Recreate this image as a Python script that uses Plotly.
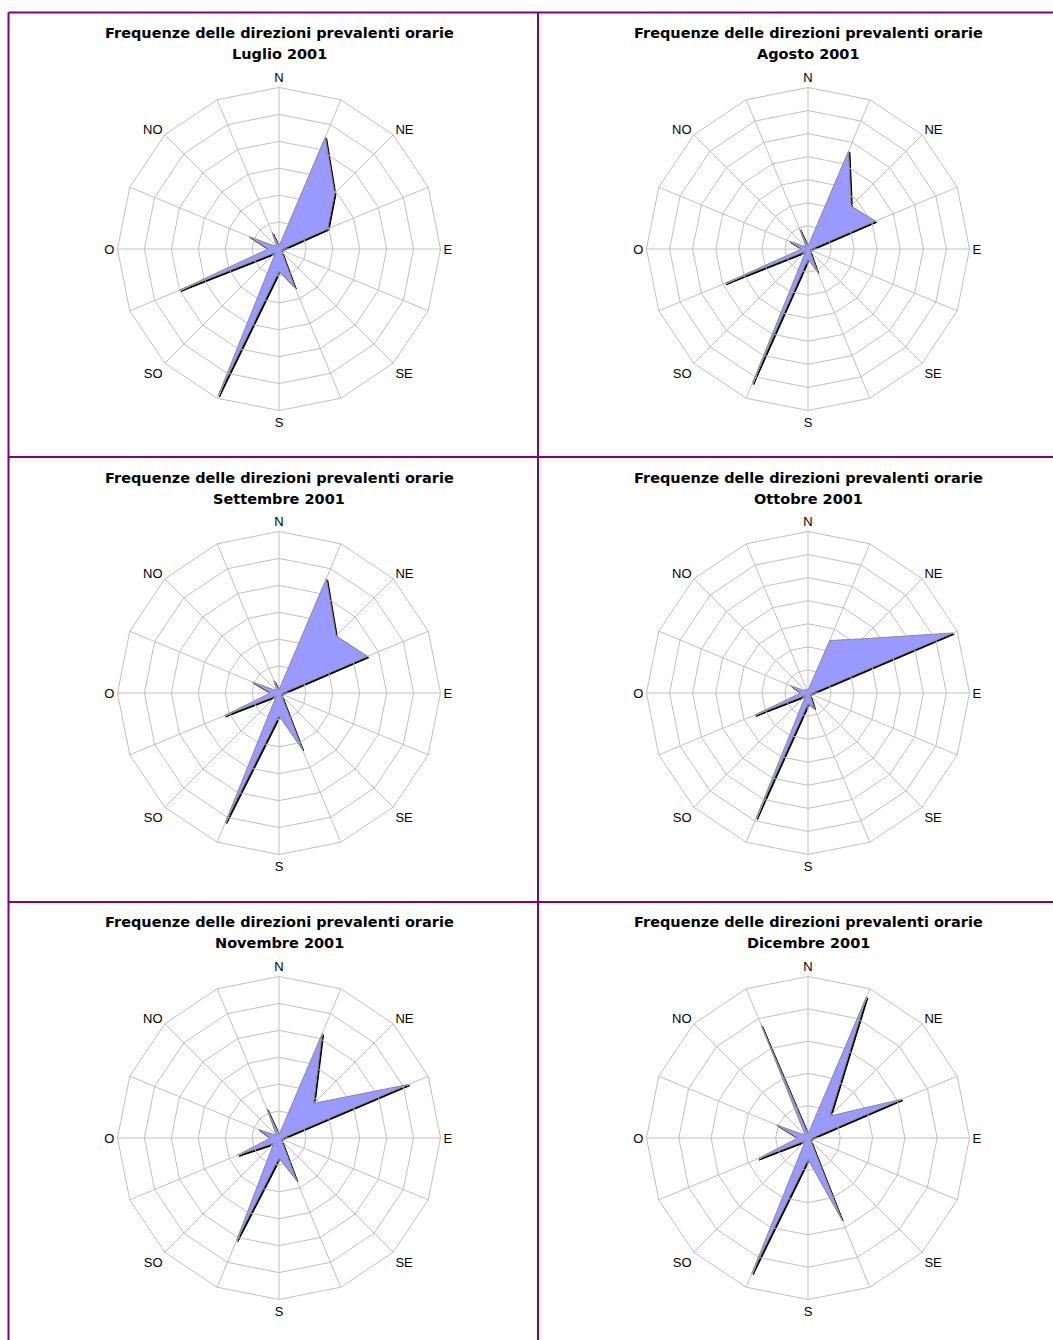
import plotly.graph_objects as go

W, H = 1053, 1340

directions = ["N", "NNE", "NE", "ENE", "E", "ESE", "SE", "SSE",
              "S", "SSO", "SO", "OSO", "O", "ONO", "NO", "NNO"]
direction_labels = ["N", "", "NE", "", "E", "", "SE", "",
                    "S", "", "SO", "", "O", "", "NO", ""]

months = ["Luglio 2001", "Agosto 2001", "Settembre 2001",
          "Ottobre 2001", "Novembre 2001", "Dicembre 2001"]

luglio    = [0.5, 22.5, 14.6,  9.8, 0.7, 0.4, 0.7,  7.8, 4.1, 29.5, 0.9, 20.0, 2.0, 6.0, 0.6,  3.3]
agosto    = [0.6, 23.0, 13.2, 15.8, 0.7, 0.4, 0.6,  5.4, 2.2, 31.5, 0.7, 19.5, 1.4, 4.5, 0.6,  4.7]
settembre = [0.6, 23.0, 15.0, 17.8, 0.7, 0.4, 0.7, 11.4, 4.2, 26.0, 0.7, 11.0, 1.6, 5.4, 0.6,  2.5]
ottobre   = [0.6, 12.3, 16.6, 34.0, 0.9, 0.4, 0.6,  3.6, 2.3, 29.4, 0.7, 12.5, 1.6, 4.1, 0.6,  1.0]
novembre  = [0.6, 21.0,  9.1, 26.0, 0.7, 0.4, 0.7,  8.5, 3.7, 20.6, 1.4,  8.3, 1.6, 4.2, 0.7,  5.9]
dicembre  = [0.6, 23.7,  4.8, 15.7, 0.6, 0.4, 0.6, 13.7, 3.3, 22.7, 0.6,  8.4, 1.6, 5.3, 0.6, 18.9]

series = [luglio, agosto, settembre, ottobre, novembre, dicembre]
radial_max = [30, 35, 30, 35, 30, 25]
ring_step = 5

title_line1 = "Frequenze delle direzioni prevalenti orarie"

col_cx = [279, 808]
row_cy = [249, 693, 1138]
R_DOM = 161.5
FONT = "Liberation Sans, Arial, sans-serif"
TITLE_FONT = "DejaVu Sans, Liberation Sans, sans-serif"
GRID = "#c0c0c0"
FILL = "#9999ff"
PURPLE = "#800080"

def px_x(x):
    return x / W

def px_y(y):
    return 1 - y / H

fig = go.Figure()
layout = {}
annotations = []

for i, (month, vals) in enumerate(zip(months, series)):
    row, col = divmod(i, 2)
    cx, cy = col_cx[col], row_cy[row]
    dom_x = [px_x(cx - R_DOM), px_x(cx + R_DOM)]
    dom_y = [px_y(cy + R_DOM), px_y(cy - R_DOM)]
    off = 1.3
    sh_x = [px_x(cx - R_DOM + off), px_x(cx + R_DOM + off)]
    sh_y = [px_y(cy + R_DOM + off), px_y(cy - R_DOM + off)]

    shadow_name = f"polar{2 * i + 1}"
    main_name = f"polar{2 * i + 2}"
    shadow_key = "polar" if 2 * i + 1 == 1 else shadow_name

    r_closed = vals + vals[:1]
    t_closed = directions + directions[:1]

    # shadow subplot (below)
    fig.add_trace(go.Scatterpolar(
        r=r_closed, theta=t_closed, mode="lines", fill="toself",
        fillcolor="#000000", line=dict(color="#000000", width=1),
        subplot=shadow_key, showlegend=False, hoverinfo="skip"))
    layout[shadow_name] = dict(
        domain=dict(x=sh_x, y=sh_y),
        gridshape="linear",
        bgcolor="rgba(0,0,0,0)",
        radialaxis=dict(range=[0, radial_max[i]], visible=False),
        angularaxis=dict(type="category", categoryarray=directions,
                         direction="clockwise", rotation=90, visible=False),
    )

    # main subplot
    fig.add_trace(go.Scatterpolar(
        r=r_closed, theta=t_closed, mode="lines", fill="toself",
        fillcolor=FILL, line=dict(color="#8c8c8c", width=1),
        subplot=main_name, showlegend=False,
        hovertemplate="%{theta}: %{r}%<extra></extra>"))
    layout[main_name] = dict(
        domain=dict(x=dom_x, y=dom_y),
        gridshape="linear",
        bgcolor="rgba(0,0,0,0)",
        radialaxis=dict(range=[0, radial_max[i]], dtick=ring_step,
                        showticklabels=False, ticks="", showline=False,
                        gridcolor=GRID, gridwidth=1, layer="below traces"),
        angularaxis=dict(type="category", categoryarray=directions,
                         direction="clockwise", rotation=90,
                         tickmode="array", tickvals=directions,
                         ticktext=direction_labels, ticks="",
                         tickfont=dict(family=FONT, size=13, color="#000000"),
                         gridcolor=GRID, linecolor=GRID, linewidth=1,
                         layer="below traces"),
    )

    annotations.append(dict(
        x=px_x(cx), y=px_y(33 + row * 444.5), xref="paper", yref="paper",
        text=f"<b>{title_line1}</b>", showarrow=False,
        font=dict(family=TITLE_FONT, size=14.5, color="#000000"),
        xanchor="center", yanchor="middle"))
    annotations.append(dict(
        x=px_x(cx), y=px_y(54 + row * 444.5), xref="paper", yref="paper",
        text=f"<b>{month}</b>", showarrow=False,
        font=dict(family=TITLE_FONT, size=14.5, color="#000000"),
        xanchor="center", yanchor="middle"))

shapes = []
line_style = dict(color=PURPLE, width=2)
for y in [12.5, 457, 902]:
    shapes.append(dict(type="line", xref="paper", yref="paper",
                       x0=px_x(8.5), x1=1, y0=px_y(y), y1=px_y(y), line=line_style))
for x in [8.5, 538]:
    shapes.append(dict(type="line", xref="paper", yref="paper",
                       x0=px_x(x), x1=px_x(x), y0=px_y(12.5), y1=0, line=line_style))

fig.update_layout(
    width=W, height=H,
    margin=dict(l=0, r=0, t=0, b=0),
    paper_bgcolor="white",
    plot_bgcolor="white",
    showlegend=False,
    annotations=annotations,
    shapes=shapes,
    **layout,
)

fig.write_html("out.html",
               config={"displayModeBar": False},
               post_script="document.body.style.margin='0';document.body.style.padding='0';")
